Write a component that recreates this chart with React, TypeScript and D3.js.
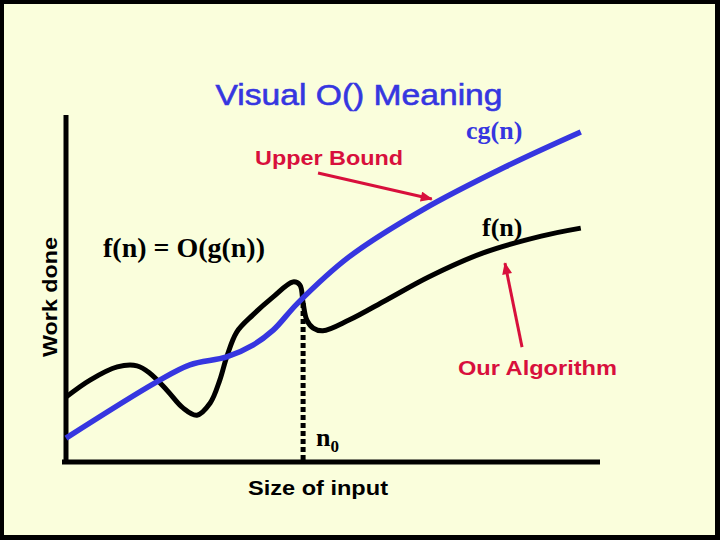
import React from "react";
import * as d3 from "d3";

// Data (abstract units: x = size of input 0..100, y = work done 0..100)
const cgX = [0, 17.0, 23.2, 30.1, 35.0, 38.8, 43.4, 53.0, 66.7, 82.2, 96.4];
const cgY = [6.9, 23.1, 28.0, 30.3, 33.7, 38.0, 45.8, 59.1, 72.6, 85.0, 95.1];

const fX = [0, 4.5, 9.6, 13.3, 15.7, 18.9, 21.9, 24.5, 27.0, 28.8, 30.1, 32.0, 35.0, 38.8, 42.5, 43.8, 44.4, 45.1, 46.3, 48.1, 53.0, 60.0, 68.0, 78.0, 89.0, 96.4];
const fY = [18.7, 23.6, 27.4, 27.7, 25.6, 20.7, 15.6, 13.5, 17.0, 23.6, 30.3, 37.5, 42.4, 47.6, 51.9, 51.0, 45.8, 40.9, 38.6, 37.8, 40.9, 46.7, 53.4, 60.2, 65.1, 67.4];

const n0 = 44.4;
const n0Y = 45.8;

// annotation arrows [x1, y1, x2, y2] in data units
const upperArrow = [47.2, 83.3, 68.5, 75.8];
const algoArrow = [85.4, 33.1, 82.2, 57.3];

const W = 720;
const H = 540;
const BLUE = "#3636E0";
const RED = "#D8103C";
const BG = "#FAFEDC";
const SANS = "'Liberation Sans', Arial, sans-serif";
const SERIF = "'Liberation Serif', 'Times New Roman', serif";

export default function App() {
  const x = d3.scaleLinear().domain([0, 100]).range([66, 600]);
  const y = d3.scaleLinear().domain([0, 100]).range([462, 115]);

  const line = d3
    .line<[number, number]>()
    .x((d) => x(d[0]))
    .y((d) => y(d[1]))
    .curve(d3.curveCatmullRom.alpha(0.5));

  const cgPts = cgX.map((v, i) => [v, cgY[i]] as [number, number]);
  const fPts = fX.map((v, i) => [v, fY[i]] as [number, number]);

  return (
    <svg
      width={W}
      height={H}
      style={{ position: "absolute", left: 0, top: 0, display: "block" }}
    >
      <defs>
        <marker
          id="ah"
          markerUnits="userSpaceOnUse"
          viewBox="0 0 12 10"
          refX="11"
          refY="5"
          markerWidth="13"
          markerHeight="10"
          orient="auto"
        >
          <path d="M0,0 L12,5 L0,10 Z" fill={RED} />
        </marker>
      </defs>
      <rect x={0} y={0} width={W} height={H} fill="#000" />
      <rect x={4} y={4} width={711} height={531} fill={BG} />

      <text
        x={359}
        y={105}
        textAnchor="middle"
        fontFamily={SANS}
        fontSize={30}
        fill={BLUE}
        stroke={BLUE}
        strokeWidth={0.6}
        textLength={287}
        lengthAdjust="spacingAndGlyphs"
      >
        Visual O() Meaning
      </text>

      {/* axes */}
      <line x1={x(0)} y1={y(100)} x2={x(0)} y2={y(0) + 2} stroke="#000" strokeWidth={5} />
      <line x1={x(0) - 4} y1={y(0)} x2={x(100)} y2={y(0)} stroke="#000" strokeWidth={5} />

      {/* n0 dotted line */}
      <line
        x1={x(n0)}
        y1={y(n0Y)}
        x2={x(n0)}
        y2={y(0)}
        stroke="#000"
        strokeWidth={5}
        strokeDasharray="5,3"
      />

      {/* curves */}
      <path d={line(fPts) || ""} fill="none" stroke="#000" strokeWidth={5} strokeLinejoin="round" />
      <path d={line(cgPts) || ""} fill="none" stroke={BLUE} strokeWidth={5.5} strokeLinejoin="round" />

      {/* arrows */}
      <line
        x1={x(upperArrow[0])}
        y1={y(upperArrow[1])}
        x2={x(upperArrow[2])}
        y2={y(upperArrow[3])}
        stroke={RED}
        strokeWidth={3}
        markerEnd="url(#ah)"
      />
      <line
        x1={x(algoArrow[0])}
        y1={y(algoArrow[1])}
        x2={x(algoArrow[2])}
        y2={y(algoArrow[3])}
        stroke={RED}
        strokeWidth={3}
        markerEnd="url(#ah)"
      />

      {/* labels */}
      <text x={255} y={165} fontFamily={SANS} fontWeight="bold" fontSize={20} fill={RED} textLength={148} lengthAdjust="spacingAndGlyphs">
        Upper Bound
      </text>
      <text x={458} y={375} fontFamily={SANS} fontWeight="bold" fontSize={20} fill={RED} textLength={159} lengthAdjust="spacingAndGlyphs">
        Our Algorithm
      </text>
      <text
        transform="translate(57,297) rotate(-90)"
        textAnchor="middle"
        fontFamily={SANS}
        fontWeight="bold"
        fontSize={20}
        fill="#000"
        textLength={120}
        lengthAdjust="spacingAndGlyphs"
      >
        Work done
      </text>
      <text x={248} y={495} fontFamily={SANS} fontWeight="bold" fontSize={20} fill="#000" textLength={140} lengthAdjust="spacingAndGlyphs">
        Size of input
      </text>
      <text x={103} y={257} fontFamily={SERIF} fontWeight="bold" fontSize={28} fill="#000" textLength={162} lengthAdjust="spacingAndGlyphs">
        f(n) = O(g(n))
      </text>
      <text x={466} y={139} fontFamily={SERIF} fontWeight="bold" fontSize={26} fill={BLUE}>
        cg(n)
      </text>
      <text x={482} y={236} fontFamily={SERIF} fontWeight="bold" fontSize={26} fill="#000">
        f(n)
      </text>
      <text x={316} y={446} fontFamily={SERIF} fontWeight="bold" fontSize={26} fill="#000">
        n
        <tspan fontSize={17} dy={6}>
          0
        </tspan>
      </text>
    </svg>
  );
}
